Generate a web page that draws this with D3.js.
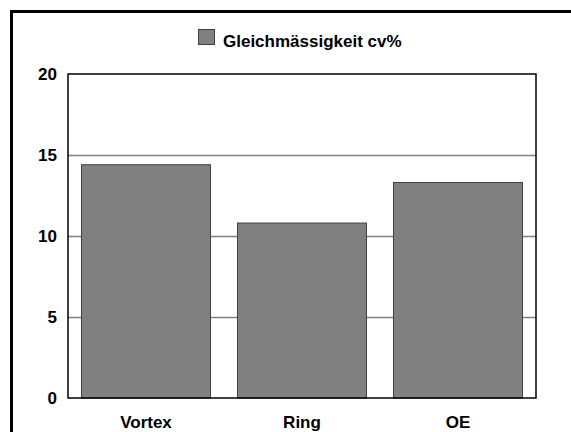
<!DOCTYPE html>
<html>
<head>
<meta charset="utf-8">
<script src="https://cdn.jsdelivr.net/npm/d3@7"></script>
<style>
  html, body { margin: 0; padding: 0; background: #fff; }
  svg { display: block; }
  text { font-family: "Liberation Sans", Arial, sans-serif; font-weight: bold; }
</style>
</head>
<body>
<svg id="chart" width="571" height="432"></svg>
<script>
// Uniformity (cv%) per spinning process
const categories = ["Vortex", "Ring", "OE"];
const values = [14.4, 10.8, 13.3];
const yTicks = [0, 5, 10, 15, 20];
const seriesName = "Gleichmässigkeit cv%";

const svg = d3.select("#chart");
const W = 571, H = 432;
const plot = { left: 68, right: 536, top: 74, bottom: 398 };
const labelFont = 17;

// outer frame (only top and left edges fall inside the view)
svg.append("rect")
  .attr("x", 11.5).attr("y", 11.5)
  .attr("width", W + 20).attr("height", H + 20)
  .attr("fill", "none").attr("stroke", "#000").attr("stroke-width", 3);

const x = d3.scaleBand()
  .domain(categories)
  .range([plot.left, plot.right])
  .paddingInner(0.173)
  .paddingOuter(0.0865);

const y = d3.scaleLinear()
  .domain([0, 20])
  .range([plot.bottom, plot.top]);

// gridlines
svg.append("g")
  .selectAll("line")
  .data(yTicks.filter(t => t > 0 && t < 20))
  .join("line")
  .attr("x1", plot.left).attr("x2", plot.right)
  .attr("y1", d => Math.round(y(d)) + 0.5).attr("y2", d => Math.round(y(d)) + 0.5)
  .attr("stroke", "#808080").attr("stroke-width", 1.5);

// bars
svg.append("g")
  .selectAll("rect")
  .data(values)
  .join("rect")
  .attr("x", (d, i) => x(categories[i]))
  .attr("y", d => y(d))
  .attr("width", x.bandwidth())
  .attr("height", d => y(0) - y(d))
  .attr("fill", "#808080")
  .attr("stroke", "#404040")
  .attr("stroke-width", 1);

// plot border
svg.append("rect")
  .attr("x", plot.left).attr("y", plot.top)
  .attr("width", plot.right - plot.left).attr("height", plot.bottom - plot.top)
  .attr("fill", "none").attr("stroke", "#000").attr("stroke-width", 1.5);

// y axis labels
const yAxis = d3.axisLeft(y).tickValues(yTicks).tickSize(0).tickPadding(11);
const yg = svg.append("g").attr("transform", `translate(${plot.left},0)`).call(yAxis);
yg.select(".domain").remove();
yg.selectAll("text")
  .attr("font-size", labelFont).attr("font-family", "Liberation Sans, Arial, sans-serif")
  .attr("font-weight", "bold").attr("fill", "#000");

// x axis labels
const xAxis = d3.axisBottom(x).tickSize(0).tickPadding(17);
const xg = svg.append("g").attr("transform", `translate(0,${plot.bottom})`).call(xAxis);
xg.select(".domain").remove();
xg.selectAll("text")
  .attr("dy", null)
  .attr("y", 30)
  .attr("font-size", labelFont).attr("font-family", "Liberation Sans, Arial, sans-serif")
  .attr("font-weight", "bold").attr("fill", "#000");

// legend
const lg = svg.append("g").attr("transform", "translate(198,29)");
lg.append("rect")
  .attr("x", 0.5).attr("y", 0.5).attr("width", 16).attr("height", 15)
  .attr("fill", "#808080").attr("stroke", "#404040");
lg.append("text")
  .attr("x", 25).attr("y", 18)
  .attr("font-size", labelFont)
  .attr("fill", "#000")
  .text(seriesName);
</script>
</body>
</html>
